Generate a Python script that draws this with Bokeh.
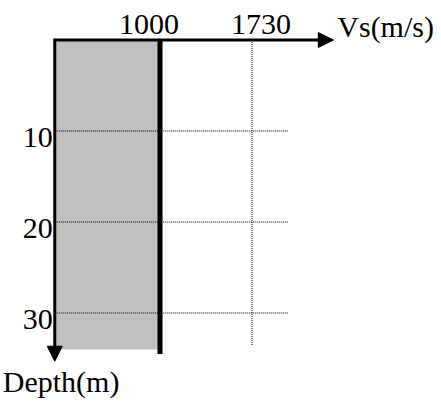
from bokeh.plotting import figure
from bokeh.models import Range1d, Arrow, NormalHead
from bokeh.core.properties import value
from bokeh.embed import file_html
from bokeh.resources import INLINE

# Shear-wave velocity profile: a single layer of Vs = 1000 m/s
VS_TICKS = [1000, 1730]           # labelled velocities on the top axis (m/s)
DEPTH_TICKS = [10, 20, 30]        # labelled depths on the left axis (m)
VS_ORIGIN = 165                   # start of the velocity axis (m/s)
VS_AXIS_END = 2375                # arrow tip of the velocity axis (m/s)
GRID_VS_END = 2020                # right end of the depth guide lines (m/s)
LAYER_VS = 1000                   # velocity of the layer (m/s)
LAYER_TOP = 0                     # layer top (m)
LAYER_BOTTOM = 34.0               # bottom of the shaded layer (m)
LAYER_LINE_BOTTOM = 34.5          # bottom of the velocity line (m)
GUIDE_1730_BOTTOM = 33.6          # bottom of the 1730 guide line (m)
DEPTH_AXIS_END = 35.3             # arrow tip of the depth axis (m)

FONT = value("Liberation Serif")

p = figure(
    width=441, height=401,
    x_range=Range1d(-265.6, 3233.6),
    y_range=Range1d(39.725, -4.3407),   # depth increases downward
    min_border=0,
    toolbar_location=None,
    output_backend="svg",
    x_axis_location=None, y_axis_location=None,
)
p.grid.visible = False
p.outline_line_color = None
p.background_fill_color = "white"
p.border_fill_color = "white"

# shaded layer
p.quad(left=VS_ORIGIN, right=LAYER_VS, top=LAYER_TOP, bottom=LAYER_BOTTOM,
       fill_color="#c0c0c0", line_color=None)

# dotted guide lines at the labelled depths
p.segment(x0=[VS_ORIGIN] * len(DEPTH_TICKS), x1=[GRID_VS_END] * len(DEPTH_TICKS),
          y0=DEPTH_TICKS, y1=DEPTH_TICKS,
          line_color="black", line_width=1, line_dash="1 1")

# dotted guide line at 1730 m/s
p.segment(x0=[VS_TICKS[1]], x1=[VS_TICKS[1]], y0=[LAYER_TOP], y1=[GUIDE_1730_BOTTOM],
          line_color="black", line_width=1, line_dash="1 1")

# velocity of the layer
p.segment(x0=[LAYER_VS], x1=[LAYER_VS], y0=[LAYER_TOP], y1=[LAYER_LINE_BOTTOM],
          line_color="black", line_width=5)

# axes as arrows
p.add_layout(Arrow(x_start=VS_ORIGIN - 8, y_start=LAYER_TOP, x_end=VS_AXIS_END, y_end=LAYER_TOP,
                   line_width=3, line_color="black",
                   end=NormalHead(size=15, fill_color="black", line_color="black")))
p.add_layout(Arrow(x_start=VS_ORIGIN, y_start=LAYER_TOP - 0.15, x_end=VS_ORIGIN, y_end=DEPTH_AXIS_END,
                   line_width=3, line_color="black",
                   end=NormalHead(size=15, fill_color="black", line_color="black")))

# velocity tick labels
p.text(x=VS_TICKS, y=[LAYER_TOP] * len(VS_TICKS), text=[str(v) for v in VS_TICKS],
       x_offset=[-11, 9], y_offset=-16,
       text_font=FONT, text_font_size="30px", text_color="black",
       text_align="center", text_baseline="alphabetic")
p.text(x=[VS_AXIS_END], y=[LAYER_TOP], text=["Vs(m/s)"],
       x_offset=4, y_offset=-14,
       text_font=FONT, text_font_size="30px", text_color="black",
       text_align="left", text_baseline="alphabetic")

# depth tick labels
p.text(x=[VS_ORIGIN] * len(DEPTH_TICKS), y=DEPTH_TICKS, text=[str(d) for d in DEPTH_TICKS],
       x_offset=-2, y_offset=6,
       text_font=FONT, text_font_size="30px", text_color="black",
       text_align="right", text_baseline="alphabetic")
p.text(x=[VS_ORIGIN], y=[DEPTH_AXIS_END], text=["Depth(m)"],
       x_offset=-52, y_offset=20,
       text_font=FONT, text_font_size="30px", text_color="black",
       text_align="left", text_baseline="alphabetic")

open("out.html", "w").write(file_html(p, INLINE))
